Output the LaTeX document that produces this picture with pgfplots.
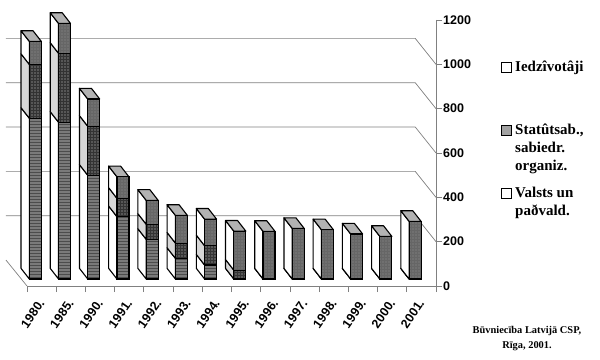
\documentclass[border=0pt]{standalone}
\usepackage{pgfplots}
\usepackage{pgfplotstable}
\usepackage{fontspec}
\setmainfont{Liberation Sans}
\newfontfamily\timesb{Liberation Serif}[Scale=1]
\usetikzlibrary{patterns}
\pgfplotsset{compat=1.18}
\definecolor{sideMid}{gray}{0.84}
\definecolor{frontLow}{gray}{0.48}
\definecolor{frontMid}{gray}{0.34}
\definecolor{frontTop}{gray}{0.44}
\definecolor{topFace}{gray}{0.70}
\definecolor{gridc}{gray}{0.50}
% columns: Valsts un pasvald. / Statutsab. / Iedzivotaji
\pgfplotstableread{
x    year valsts statut iedz
0.5  1980 725 243 104
1.5  1985 707 311 135
2.5  1990 468 221 123
3.5  1991 281  83  97
4.5  1992 179  68 108
5.5  1993  93  69 125
6.5  1994  63  87 120
7.5  1995   0  40 176
8.5  1996   0   0 215
9.5  1997   0   0 228
10.5 1998   0   0 222
11.5 1999   0   0 203
12.5 2000   0   0 192
13.5 2001   0   0 260
}\datatbl
\newcommand{\polyplot}[2]{\edef\temp{\noexpand\addplot[draw=black,line width=1.1pt,fill=#1,line join=round] coordinates {#2};}\temp}
\newcommand{\yearbar}[1]{%
  \pgfplotstablegetelem{#1}{valsts}\of\datatbl\let\va\pgfplotsretval
  \pgfplotstablegetelem{#1}{statut}\of\datatbl\let\vb\pgfplotsretval
  \pgfplotstablegetelem{#1}{iedz}\of\datatbl\let\vc\pgfplotsretval
  \pgfmathsetmacro\xl{#1+0.5-0.205}%
  \pgfmathsetmacro\xr{#1+0.5+0.205}%
  \pgfmathsetmacro\xbl{\xl-0.284}%
  \pgfmathsetmacro\xbr{\xr-0.284}%
  \pgfmathsetmacro\ya{\va}%
  \pgfmathsetmacro\yb{\va+\vb}%
  \pgfmathsetmacro\yc{\va+\vb+\vc}%
  \pgfmathsetmacro\Ya{\ya+48}%
  \pgfmathsetmacro\Yb{\yb+48}%
  \pgfmathsetmacro\Yc{\yc+48}%
  \polyplot{white}{(\xl,0)(\xbl,48)(\xbl,\Ya)(\xl,\ya)(\xl,0)}%
  \polyplot{sideMid}{(\xl,\ya)(\xbl,\Ya)(\xbl,\Yb)(\xl,\yb)(\xl,\ya)}%
  \polyplot{white}{(\xl,\yb)(\xbl,\Yb)(\xbl,\Yc)(\xl,\yc)(\xl,\yb)}%
  \polyplot{topFace}{(\xl,\yc)(\xbl,\Yc)(\xbr,\Yc)(\xr,\yc)(\xl,\yc)}%
}
\begin{document}
\begin{tikzpicture}[x=1pt,y=1pt]
\path[use as bounding box] (0,0) rectangle (600,359);
% frame: floor, value axis, back wall
\begin{axis}[
  at={(27pt,73pt)},anchor=south west,
  scale only axis,width=409pt,height=266pt,
  xmin=0,xmax=14,ymin=0,ymax=1200,
  clip=false,
  axis y line*=right,axis x line*=bottom,
  axis line style={gridc,line width=0.8pt,-},
  every tick/.style={gridc,line width=0.8pt},
  tick align=outside,major tick length=6pt,
  xtick={0,...,14},xticklabels={},
  extra x ticks={0.5,1.5,...,13.5},
  extra x tick labels={1980.,1985.,1990.,1991.,1992.,1993.,1994.,1995.,1996.,1997.,1998.,1999.,2000.,2001.},
  extra x tick style={major tick length=0pt,
    xticklabel style={rotate=55,anchor=north east,font=\bfseries\fontsize{12.5}{12.5}\selectfont,inner sep=0pt,yshift=-4pt,xshift=-12pt}},
  ytick={0,200,...,1200},
  yticklabel style={font=\bfseries\fontsize{12.5}{12.5}\selectfont,inner sep=0pt,xshift=1pt},
  /pgf/number format/set thousands separator={},
  /pgf/number format/assume math mode=true,
]
\addplot[gridc,line width=0.7pt] coordinates {(-0.72,117)(0,0)};
\addplot[gridc,line width=0.8pt] coordinates {(14,-27)(14,0)};
\addplot[gridc,line width=0.8pt] coordinates {(14,1200)(14,0)(14.15,0)};
\addplot[gridc,line width=0.7pt] coordinates {(-0.72,317)(13.29,317)(14,200)};
\addplot[gridc,line width=0.7pt] coordinates {(-0.72,517)(13.29,517)(14,400)};
\addplot[gridc,line width=0.7pt] coordinates {(-0.72,717)(13.29,717)(14,600)};
\addplot[gridc,line width=0.7pt] coordinates {(-0.72,917)(13.29,917)(14,800)};
\addplot[gridc,line width=0.7pt] coordinates {(-0.72,1117)(13.29,1117)(14,1000)};
\end{axis}
% side and top faces of the bars
\begin{axis}[
  at={(20.7pt,80pt)},anchor=south west,
  scale only axis,width=409pt,height=266pt,
  xmin=0,xmax=14,ymin=0,ymax=1200,clip=false,axis lines=none,
]
\pgfplotsinvokeforeach{0,...,13}{\yearbar{#1}}
\end{axis}
% front faces of the bars
\begin{axis}[
  at={(20.7pt,80pt)},anchor=south west,
  scale only axis,width=409pt,height=266pt,
  xmin=0,xmax=14,ymin=0,ymax=1200,clip=false,axis lines=none,
  ybar stacked,bar width=12pt,
]
\addplot[draw=black,line width=1.1pt,fill=frontLow,postaction={pattern=horizontal lines,pattern color=black!70}] table[x=x,y=valsts]{\datatbl};
\addplot[draw=black,line width=1.1pt,fill=frontMid,postaction={pattern=grid,pattern color=black!80}] table[x=x,y=statut]{\datatbl};
\addplot[draw=black,line width=1.1pt,fill=frontTop,postaction={pattern=grid,pattern color=black!60}] table[x=x,y=iedz]{\datatbl};
\end{axis}
% legend
\draw[black,line width=0.8pt,fill=white] (501,287) rectangle (511,297);
\draw[black,line width=0.8pt,fill=frontLow!70] (501,224) rectangle (511,234);
\draw[black,line width=0.8pt,fill=white] (501,161) rectangle (511,171);
\newcommand{\legfont}{\timesb\bfseries\fontsize{15}{18}\selectfont}
\node[anchor=base west,inner sep=0pt,font=\legfont] at (515,287) {Iedzîvotâji};
\node[anchor=base west,inner sep=0pt,font=\legfont] at (515,224) {Statûtsab.,};
\node[anchor=base west,inner sep=0pt,font=\legfont] at (515,206) {sabiedr.};
\node[anchor=base west,inner sep=0pt,font=\legfont] at (515,188) {organiz.};
\node[anchor=base west,inner sep=0pt,font=\legfont] at (515,161) {Valsts un};
\node[anchor=base west,inner sep=0pt,font=\legfont] at (515,143) {paðvald.};
\node[anchor=base,inner sep=0pt,font=\timesb\bfseries\fontsize{10.4}{12}\selectfont] at (527,26) {Būvniecība Latvijā CSP,};
\node[anchor=base,inner sep=0pt,font=\timesb\bfseries\fontsize{10.4}{12}\selectfont] at (527,11) {Rīga, 2001.};
\end{tikzpicture}
\end{document}
